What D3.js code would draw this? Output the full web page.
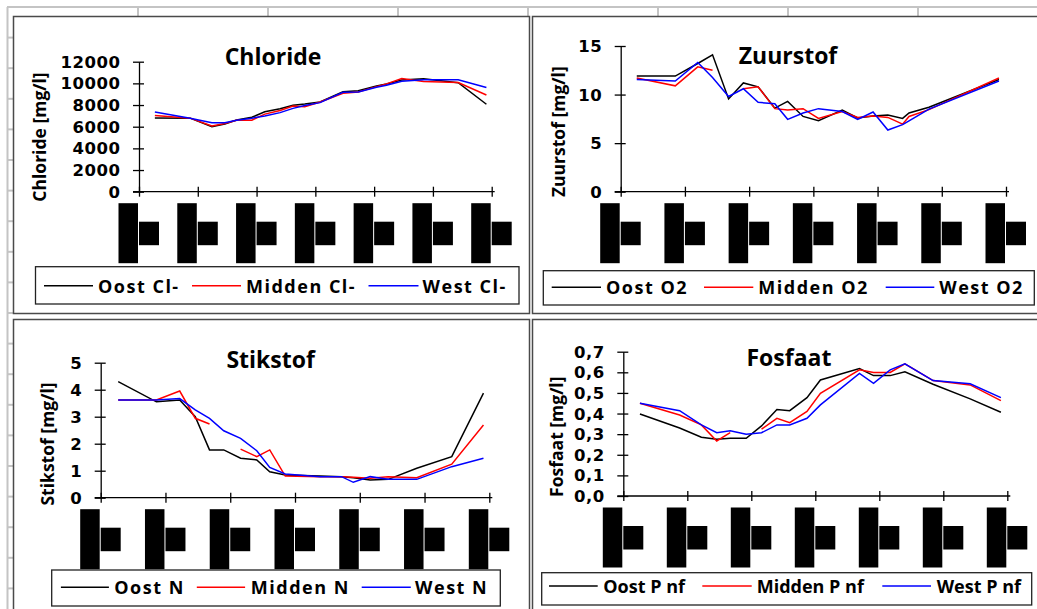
<!DOCTYPE html>
<html>
<head>
<meta charset="utf-8">
<script src="https://cdn.jsdelivr.net/npm/d3@7"></script>
<style>
  body { margin: 0; background: #fff; }
  svg { display: block; }
  text { font-family: "Open Sans", sans-serif; font-weight: 700; fill: #000; }
</style>
</head>
<body>
<svg id="chart" width="1037" height="609"></svg>
<script>
// x positions are in tick units (0 = first tick, 6 = last tick)
const xTicks = [0, 1, 2, 3, 4, 5, 6];

const chlorideTimes  = [0.27, 0.87, 1.24, 1.46, 1.66, 1.92, 2.14, 2.4, 2.62, 2.82, 3.08, 3.47, 3.73, 4.04, 4.21, 4.47, 4.84, 5.43, 5.91];
const chlorideOost   = [6800, 6790, 6000, 6250, 6620, 6870, 7380, 7660, 7970, 8090, 8280, 9230, 9320, 9760, 9940, 10310, 10430, 10060, 8070];
const chlorideMidden = [7040, 6790, 6070, 6300, 6600, 6600, 7160, 7500, 7910, 7840, 8280, 9080, 9210, 9700, 9950, 10450, 10170, 10070, 8930];
const chlorideWest   = [7350, 6790, 6360, 6360, 6600, 6790, 6980, 7300, 7690, 7950, 8220, 9180, 9210, 9640, 9830, 10200, 10330, 10330, 9610];
const chlorideTicks  = [0, 2000, 4000, 6000, 8000, 10000, 12000];

const zuurstofTimes  = [0.25, 0.85, 1.2, 1.43, 1.68, 1.91, 2.14, 2.4, 2.6, 2.84, 3.08, 3.45, 3.69, 3.93, 4.16, 4.39, 4.49, 4.8, 5.89];
const zuurstofOost   = [11.9, 11.9, 13.2, 14.1, 9.55, 11.2, 10.8, 8.6, 9.3, 7.75, 7.3, 8.4, 7.6, 7.8, 7.9, 7.55, 8.1, 8.7, 11.55];
const zuurstofMidden = [11.7, 10.9, 12.85, 12.5, null, 10.6, 10.8, 8.55, 8.4, 8.55, 7.55, 8.25, 7.65, 7.8, 7.65, 6.95, 7.75, 8.45, 11.7];
const zuurstofWest   = [11.55, 11.4, 13.3, 11.75, 9.8, 10.6, 9.2, 9.05, 7.45, 8.1, 8.55, 8.25, 7.45, 8.2, 6.35, 6.9, 7.3, 8.5, 11.4];
const zuurstofTicks  = [0, 5, 10, 15];

const stikstofTimes  = [0.27, 0.86, 1.22, 1.46, 1.68, 1.9, 2.16, 2.41, 2.61, 2.85, 3.39, 3.72, 3.9, 4.16, 4.44, 4.88, 5.42, 5.91];
const stikstofOost   = [4.3, 3.55, 3.62, 3.0, 1.77, 1.77, 1.46, 1.4, 0.96, 0.84, 0.8, 0.78, 0.74, 0.66, 0.68, 1.09, 1.52, 3.87];
const stikstofMidden = [3.62, 3.62, 3.95, 2.94, 2.73, null, 1.8, 1.52, 1.77, 0.8, 0.78, 0.78, 0.76, 0.72, 0.78, 0.74, 1.24, 2.69];
const stikstofWest   = [3.62, 3.62, 3.67, 3.25, 2.94, 2.48, 2.2, 1.74, 1.12, 0.88, 0.78, 0.78, 0.57, 0.78, 0.68, 0.68, 1.15, 1.46];
const stikstofTicks  = [0, 1, 2, 3, 4, 5];

const fosfaatTimes   = [0.26, 0.88, 1.22, 1.46, 1.67, 1.92, 2.16, 2.4, 2.6, 2.87, 3.08, 3.69, 3.91, 4.17, 4.4, 4.84, 5.42, 5.9];
const fosfaatOost    = [0.398, 0.33, 0.285, 0.275, 0.28, 0.28, 0.34, 0.42, 0.414, 0.477, 0.563, 0.618, 0.584, 0.584, 0.603, 0.542, 0.471, 0.406];
const fosfaatMidden  = [0.45, 0.393, 0.345, 0.267, 0.307, null, 0.324, 0.377, 0.356, 0.41, 0.498, 0.612, 0.599, 0.599, 0.641, 0.56, 0.539, 0.463];
const fosfaatWest    = [0.45, 0.414, 0.345, 0.307, 0.317, 0.3, 0.307, 0.345, 0.345, 0.377, 0.442, 0.595, 0.547, 0.612, 0.641, 0.56, 0.544, 0.477];
const fosfaatTicks   = [0, 0.1, 0.2, 0.3, 0.4, 0.5, 0.6, 0.7];

const seriesColors = ['#000000', '#ff0000', '#0000ff'];

const svg = d3.select('#chart');

// spreadsheet grid behind the charts
const grid = svg.append('g').attr('stroke', '#c4c4c4');
grid.append('line').attr('x1', 7).attr('x2', 1037).attr('y1', 7).attr('y2', 7).attr('stroke-width', 2);
grid.append('line').attr('x1', 7.5).attr('x2', 7.5).attr('y1', 7).attr('y2', 609).attr('stroke-width', 2);
d3.range(1, 8).forEach(k => {
  grid.append('line').attr('x1', 8 + 130 * k).attr('x2', 8 + 130 * k).attr('y1', 7).attr('y2', 16).attr('stroke-width', 2);
});
d3.range(1, 20).forEach(k => {
  grid.append('line').attr('x1', 7).attr('x2', 13).attr('y1', 7 + 30.6 * k).attr('y2', 7 + 30.6 * k).attr('stroke-width', 2);
});

const panels = [
  {
    title: 'Chloride', yLabel: 'Chloride [mg/l]', times: chlorideTimes,
    series: [chlorideOost, chlorideMidden, chlorideWest],
    names: ['Oost Cl-', 'Midden Cl-', 'West Cl-'],
    ticks: chlorideTicks, yMax: 12000, fmt: d => String(d),
    border: [13.5, 16.5, 529.5, 313.5],
    ax: { x0: 139, x1: 491.7, y0: 191.7, y1: 61.7 },
    titleAt: [273, 65], yLabAt: [46, 137],
    legend: { box: [35.5, 266.7, 519, 304], lines: [[44, 93], [192, 241], [368.5, 418.5]],
              texts: [98, 246, 422.6], ly: 285.7, by: 292.7, spacing: 1.5 }
  },
  {
    title: 'Zuurstof', yLabel: 'Zuurstof [mg/l]', times: zuurstofTimes,
    series: [zuurstofOost, zuurstofMidden, zuurstofWest],
    names: ['Oost O2', 'Midden O2', 'West O2'],
    ticks: zuurstofTicks, yMax: 15, fmt: d => String(d),
    border: [532.5, 16.5, 1045, 313.5],
    ax: { x0: 620.7, x1: 1006, y0: 191.7, y1: 46 },
    titleAt: [788, 64], yLabAt: [565, 131.7],
    legend: { box: [543.3, 270.7, 1034.3, 305], lines: [[551.7, 601], [704, 753.3], [885.7, 934.3]],
              texts: [606, 758.3, 939.3], ly: 287.3, by: 294.3, spacing: 1.5 }
  },
  {
    title: 'Stikstof', yLabel: 'Stikstof [mg/l]', times: stikstofTimes,
    series: [stikstofOost, stikstofMidden, stikstofWest],
    names: ['Oost N', 'Midden N', 'West N'],
    ticks: stikstofTicks, yMax: 5, fmt: d => String(d),
    border: [13.5, 319.5, 529.5, 615],
    ax: { x0: 100.7, x1: 489.3, y0: 497.7, y1: 362.7 },
    titleAt: [270.7, 368.3], yLabAt: [54, 444],
    legend: { box: [51.7, 570, 500.3, 606], lines: [[60.9, 108.9], [196.8, 245.1], [361.7, 410.8]],
              texts: [114.3, 250.8, 415.1], ly: 587.3, by: 594, spacing: 1.5 }
  },
  {
    title: 'Fosfaat', yLabel: 'Fosfaat [mg/l]', times: fosfaatTimes,
    series: [fosfaatOost, fosfaatMidden, fosfaatWest],
    names: ['Oost P nf', 'Midden P nf', 'West P nf'],
    ticks: fosfaatTicks, yMax: 0.7, fmt: d => d.toFixed(1).replace('.', ','),
    border: [532.5, 319.5, 1045, 615],
    ax: { x0: 623.3, x1: 1007.3, y0: 496, y1: 351.7 },
    titleAt: [789, 366], yLabAt: [562.5, 436.7],
    legend: { box: [541.7, 572.7, 1031.7, 605], lines: [[549, 597.7], [702.3, 751.7], [882.3, 931]],
              texts: [603.3, 756.7, 936.7], ly: 586, by: 593.3, spacing: 0 }
  }
];

panels.forEach(p => {
  const g = svg.append('g');
  const [bx1, by1, bx2, by2] = p.border;
  g.append('rect').attr('x', bx1).attr('y', by1).attr('width', bx2 - bx1).attr('height', by2 - by1)
    .attr('fill', '#fff').attr('stroke', '#4a4a4a').attr('stroke-width', 1.5);

  const x = d3.scaleLinear().domain([0, 6]).range([p.ax.x0, p.ax.x1]);
  const y = d3.scaleLinear().domain([0, p.yMax]).range([p.ax.y0, p.ax.y1]);

  // y axis
  const yAxis = g.append('g').attr('transform', `translate(${p.ax.x0},0)`)
    .call(d3.axisLeft(y).tickValues(p.ticks).tickFormat('').tickSize(6).tickSizeOuter(0));
  yAxis.select('.domain').attr('stroke', '#000').attr('stroke-width', 1.3);
  yAxis.selectAll('.tick line').attr('stroke', '#000').attr('stroke-width', 1.3).attr('x2', -6).attr('x1', 5);

  g.selectAll('.ylab').data(p.ticks).join('text')
    .attr('x', p.ax.x0 - 19 + 0.5).attr('y', d => y(d) + 6)
    .attr('text-anchor', 'end').attr('font-size', 16.5).attr('letter-spacing', 0.5)
    .style('font-family', '"DejaVu Sans", sans-serif')
    .text(p.fmt);

  // x axis with crossing ticks
  const xAxis = g.append('g').attr('transform', `translate(0,${p.ax.y0})`)
    .call(d3.axisBottom(x).tickValues(xTicks).tickFormat('').tickSize(5).tickSizeOuter(0));
  xAxis.select('.domain').attr('stroke', '#000').attr('stroke-width', 1.3)
    .attr('d', `M${p.ax.x0 - 6},0H${p.ax.x1 + 3}`);
  xAxis.selectAll('.tick line').attr('stroke', '#000').attr('stroke-width', 1.3).attr('y1', -5).attr('y2', 5);

  // unreadable date labels, rendered as solid glyph boxes
  const boxes = g.append('g').attr('fill', '#000');
  boxes.selectAll('.tall').data(xTicks).join('rect')
    .attr('x', d => x(d) - 20.5).attr('width', 19.5)
    .attr('y', p.ax.y0 + 11.5).attr('height', 60);
  boxes.selectAll('.small').data(xTicks).join('rect')
    .attr('x', d => x(d)).attr('width', 20)
    .attr('y', p.ax.y0 + 30).attr('height', 23.5);

  // series lines
  const line = d3.line().defined(d => d[1] != null).x(d => x(d[0])).y(d => y(d[1]));
  p.series.forEach((vals, i) => {
    g.append('path').datum(p.times.map((t, j) => [t, vals[j]]))
      .attr('fill', 'none').attr('stroke', seriesColors[i]).attr('stroke-width', 1.5)
      .attr('d', line);
  });

  g.append('text').attr('x', p.titleAt[0]).attr('y', p.titleAt[1])
    .attr('text-anchor', 'middle').attr('font-size', 23).attr('font-weight', 700).text(p.title);

  g.append('text').attr('transform', `translate(${p.yLabAt[0]},${p.yLabAt[1]}) rotate(-90)`)
    .attr('text-anchor', 'middle').attr('font-size', 17.5).text(p.yLabel);

  // legend
  const L = p.legend;
  g.append('rect').attr('x', L.box[0]).attr('y', L.box[1])
    .attr('width', L.box[2] - L.box[0]).attr('height', L.box[3] - L.box[1])
    .attr('fill', '#fff').attr('stroke', '#222').attr('stroke-width', 1.3);
  p.names.forEach((name, i) => {
    g.append('line').attr('x1', L.lines[i][0]).attr('x2', L.lines[i][1])
      .attr('y1', L.ly).attr('y2', L.ly).attr('stroke', seriesColors[i]).attr('stroke-width', 1.5);
    g.append('text').attr('x', L.texts[i]).attr('y', L.by)
      .attr('font-size', 18).attr('letter-spacing', L.spacing).text(name);
  });
});
</script>
</body>
</html>
